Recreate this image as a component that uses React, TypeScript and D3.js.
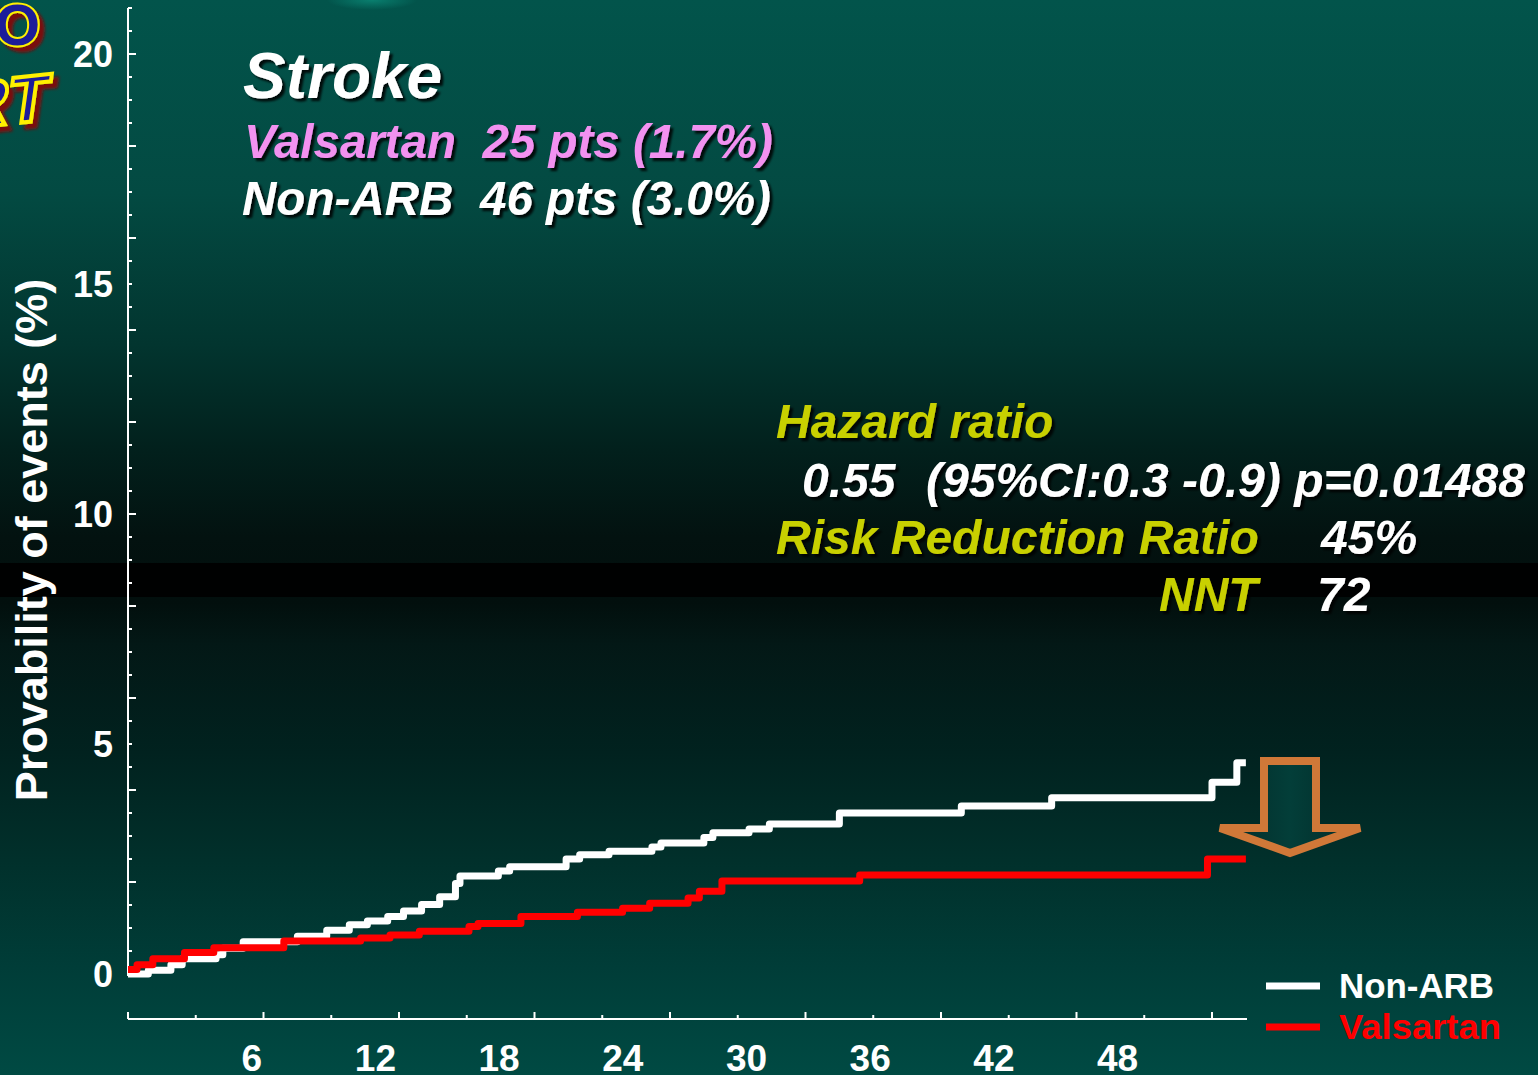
import React from "react";
import * as d3 from "d3";

// ---------- data ----------
const nonArbMonths = [0, 0.9, 1.9, 2.4, 3.9, 4.2, 5.1, 7.5, 8.8, 9.8, 10.6, 11.5, 12.2, 13.0, 13.8, 14.5, 14.7, 16.4, 16.9, 19.4, 20.0, 21.3, 23.2, 23.6, 25.5, 25.9, 27.5, 28.4, 31.5, 36.9, 40.9, 48.0, 49.1, 49.5];
const nonArbValues = [0, 0.08, 0.2, 0.33, 0.42, 0.56, 0.7, 0.82, 0.95, 1.07, 1.15, 1.25, 1.37, 1.51, 1.68, 1.97, 2.13, 2.24, 2.33, 2.5, 2.59, 2.67, 2.76, 2.85, 2.97, 3.07, 3.15, 3.26, 3.5, 3.65, 3.83, 4.17, 4.59, 4.59];

const valsartanMonths = [0, 0.4, 1.1, 2.5, 3.8, 6.9, 10.3, 11.6, 12.9, 15.1, 15.5, 17.4, 19.9, 21.9, 23.1, 24.8, 25.3, 26.3, 32.4, 47.8, 49.5];
const valsartanValues = [0.1, 0.2, 0.33, 0.47, 0.57, 0.72, 0.78, 0.85, 0.93, 1.03, 1.1, 1.25, 1.34, 1.43, 1.54, 1.65, 1.8, 2.02, 2.15, 2.5, 2.5];

const xTickLabels = [6, 12, 18, 24, 30, 36, 42, 48];
const yTickLabels = [0, 5, 10, 15, 20];
const seriesNames = ["Non-ARB", "Valsartan"];
const seriesColors = ["#ffffff", "#ff0000"];

const W = 1538;
const H = 1075;

export default function App() {
  const x = d3.scaleLinear().domain([0, 49.55]).range([128, 1247]);
  const xLabel = d3.scaleLinear().domain([0, 48]).range([128, 1117.6]);
  const y = d3.scaleLinear().domain([0, 21]).range([974, 8]);
  const xAxisY = 1019;

  const line = d3
    .line<[number, number]>()
    .x((d) => x(d[0]))
    .y((d) => y(d[1]))
    .curve(d3.curveStepAfter);

  const nonArb: [number, number][] = nonArbMonths.map((m, i) => [m, nonArbValues[i]]);
  const vals: [number, number][] = valsartanMonths.map((m, i) => [m, valsartanValues[i]]);

  const yMinor = d3.range(0, 21.01, 0.5);
  const xMinor = d3.range(0, 49.1, 3);

  const font = "'Liberation Sans', Arial, sans-serif";
  const yellow = "#c8d000";

  return (
    <svg
      width={W}
      height={H}
      style={{ position: "absolute", left: 0, top: 0, display: "block" }}
      fontFamily={font}
    >
      <defs>
        <linearGradient id="bg" x1="0" y1="0" x2="0" y2="1">
          <stop offset="0" stopColor="#02544b" />
          <stop offset="0.18" stopColor="#034a42" />
          <stop offset="0.32" stopColor="#02352f" />
          <stop offset="0.42" stopColor="#02201c" />
          <stop offset="0.5" stopColor="#031210" />
          <stop offset="0.56" stopColor="#020f0d" />
          <stop offset="0.6" stopColor="#031816" />
          <stop offset="0.7" stopColor="#01221f" />
          <stop offset="0.8" stopColor="#01302b" />
          <stop offset="0.9" stopColor="#003d38" />
          <stop offset="1" stopColor="#004a43" />
        </linearGradient>
        <radialGradient id="glow" cx="0.5" cy="0.5" r="0.5">
          <stop offset="0" stopColor="#0b8a78" stopOpacity="0.8" />
          <stop offset="1" stopColor="#0b8a78" stopOpacity="0" />
        </radialGradient>
        <linearGradient id="arrowFill" x1="0" y1="0" x2="1" y2="0">
          <stop offset="0" stopColor="#022a27" />
          <stop offset="0.5" stopColor="#033e39" />
          <stop offset="1" stopColor="#022a27" />
        </linearGradient>
        <filter id="shadow" x="-5%" y="-20%" width="115%" height="150%">
          <feDropShadow dx="3" dy="3" stdDeviation="1.2" floodColor="#000" floodOpacity="0.85" />
        </filter>
        <filter id="logoShadow" x="-20%" y="-20%" width="150%" height="150%">
          <feDropShadow dx="5" dy="5" stdDeviation="1.5" floodColor="#7a1010" floodOpacity="1" />
        </filter>
      </defs>

      <rect x={0} y={0} width={W} height={H} fill="url(#bg)" />
      <rect x={0} y={563} width={W} height={34} fill="#000" opacity={0.9} />
      <ellipse cx={372} cy={0} rx={45} ry={10} fill="url(#glow)" />

      {/* logo fragment */}
      <g filter="url(#logoShadow)" fontWeight="bold">
        <text x={40} y={45} fontSize={58} textAnchor="end" fill="#1a1a9a" stroke="#fff000" strokeWidth={4} paintOrder="stroke">
          KYOTO
        </text>
        <text
          x={0}
          y={0}
          fontSize={66}
          textAnchor="end"
          fill="#1a1a9a"
          stroke="#fff000"
          strokeWidth={4}
          transform="translate(46,120) rotate(-6) skewX(-14)"
        >
          HEART
        </text>
      </g>

      {/* y axis */}
      <line x1={x(0)} x2={x(0)} y1={y(21)} y2={y(0) + 2} stroke="#fff" strokeWidth={2} />
      {yMinor.map((v) => {
        const major = Math.abs(v % 2) < 1e-6;
        return (
          <line key={"yt" + v} x1={x(0)} x2={x(0) + (major ? 8 : 4)} y1={y(v)} y2={y(v)} stroke="#fff" strokeWidth={2} />
        );
      })}
      {yTickLabels.map((v) => (
        <text key={"yl" + v} x={113} y={y(v) + 13} textAnchor="end" fontSize={36} fontWeight="bold" fill="#fff">
          {v}
        </text>
      ))}
      <text
        transform={`translate(47,${540}) rotate(-90)`}
        textAnchor="middle"
        fontSize={45}
        fontWeight="bold"
        fill="#fff"
      >
        Provability of events (%)
      </text>

      {/* x axis */}
      <line x1={x(0)} x2={1247} y1={xAxisY} y2={xAxisY} stroke="#fff" strokeWidth={2} />
      {xMinor.map((m) => {
        const major = Math.abs(m % 6) < 1e-6;
        return (
          <line key={"xt" + m} x1={x(m)} x2={x(m)} y1={xAxisY} y2={xAxisY - (major ? 7 : 4)} stroke="#fff" strokeWidth={2} />
        );
      })}
      {xTickLabels.map((m) => (
        <text key={"xl" + m} x={xLabel(m)} y={1071} textAnchor="middle" fontSize={37} fontWeight="bold" fill="#fff">
          {m}
        </text>
      ))}

      {/* curves */}
      <path d={line(nonArb) || ""} fill="none" stroke={seriesColors[0]} strokeWidth={7} strokeLinejoin="round" />
      <path d={line(vals) || ""} fill="none" stroke={seriesColors[1]} strokeWidth={7} strokeLinejoin="round" />

      {/* arrow */}
      <path
        d="M1264,761 L1316,761 L1316,828 L1360,828 L1290,853 L1220,828 L1264,828 Z"
        fill="url(#arrowFill)"
        stroke="#d07838"
        strokeWidth={8}
        strokeLinejoin="miter"
        strokeMiterlimit={4}
      />

      {/* legend */}
      {seriesNames.map((name, i) => (
        <g key={name}>
          <line x1={1266} x2={1320} y1={986 + i * 41} y2={986 + i * 41} stroke={seriesColors[i]} strokeWidth={7} />
          <text
            x={1339}
            y={998 + i * 41}
            fontSize={35}
            fontWeight="bold"
            fill={seriesColors[i]}
            textLength={i === 0 ? 155 : 162}
            lengthAdjust="spacingAndGlyphs"
          >
            {name}
          </text>
        </g>
      ))}

      {/* annotations */}
      <g filter="url(#shadow)" fontWeight="bold" fontStyle="italic">
        <text x={243} y={98} fontSize={64} fill="#fff">Stroke</text>
        <text x={244} y={158} fontSize={47.5} fill="#f291f0" style={{ whiteSpace: "pre" }}>
          {"Valsartan  25 pts (1.7%)"}
        </text>
        <text x={242} y={215} fontSize={47.6} fill="#fff" style={{ whiteSpace: "pre" }}>
          {"Non-ARB  46 pts (3.0%)"}
        </text>

        <text x={776} y={438} fontSize={48} fill={yellow}>Hazard ratio</text>
        <text x={802} y={497} fontSize={48} fill="#fff">0.55</text>
        <text x={926} y={497} fontSize={48} fill="#fff">(95%CI:0.3 -0.9) p=0.01488</text>
        <text x={776} y={554} fontSize={48} fill={yellow}>Risk Reduction Ratio</text>
        <text x={1321} y={554} fontSize={48} fill="#fff">45%</text>
        <text x={1159} y={611} fontSize={48} fill={yellow}>NNT</text>
        <text x={1317} y={611} fontSize={48} fill="#fff">72</text>
      </g>
    </svg>
  );
}
